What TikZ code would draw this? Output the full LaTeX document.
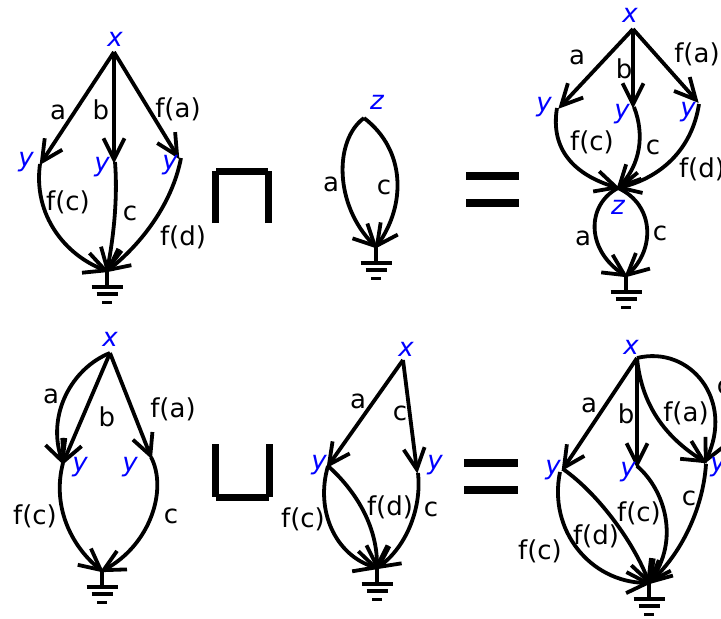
\documentclass[tikz,border=0pt]{standalone}
\usepackage{fontspec}
\setmainfont{DejaVu Sans}
\usetikzlibrary{arrows.meta}
\tikzset{
  edge/.style={line width=3.8pt,shorten >=-2.5pt,-{Straight Barb[length=21pt,width=21pt,line width=3.8pt]}},
  wire/.style={line width=3.8pt},
  op/.style={line width=7pt},
  lab/.style={inner sep=0pt,yshift=-2.5pt,font=\fontsize{26}{30}\selectfont,text=black},
  var/.style={inner sep=0pt,yshift=-2.5pt,font=\fontsize{26}{30}\selectfont\itshape,text=blue},
}
\newcommand{\gnd}[1]{%
  \draw[wire] (#1) -- ++(0,16) ++(-15.5,0) -- ++(31,0) ++(-26,7) -- ++(21,0) ++(-15.5,8.5) -- ++(10,0);}
\begin{document}
\begin{tikzpicture}[x=1pt,y=-1pt]
\path[use as bounding box] (0,0) rectangle (721,619);
% Panel 1
\coordinate (ax) at (114,52);
\coordinate (ay1) at (41,163);
\coordinate (ay2) at (114,161);
\coordinate (ay3) at (178,157);
\coordinate (ah) at (107,271);
\draw[edge] (ax) -- (ay1);
\draw[edge] (ax) -- (ay2);
\draw[edge] (ax) -- (ay3);
\draw[edge] (ay1) ++(-1,1) coordinate (ay1s) (ay1s) .. controls (33,215) and (65,255) .. (ah);
\draw[edge] (ay2) ++(1,1) coordinate (ay2s) (ay2s) .. controls (118,200) and (113,240) .. (ah);
\draw[edge] (ay3) ++(3,1) coordinate (ay3s) (ay3s) .. controls (172,205) and (140,245) .. (ah);
\gnd{ah}
\node[var] (axl) at (115,37) {x};
\node[var] (ayl1) at (26,160) {y};
\node[var] (ayl2) at (102,165) {y};
\node[var] (ayl3) at (170,163) {y};
\node[lab] (ala) at (58,110) {a};
\node[lab] (alb) at (101,107) {b};
\node[lab] (alfa) at (178,107) {f(a)};
\node[lab] (alfc) at (68,200) {f(c)};
\node[lab] (alc) at (130,211) {c};
\node[lab] (alfd) at (183,235) {f(d)};
% meet
\draw[op] (215.5,223) -- (215.5,171);
\draw[op] (268.5,223) -- (268.5,171);
\draw[op] (216,171.5) -- (268,171.5);
% Panel 2
\coordinate (bz) at (364,118);
\coordinate (bh) at (376,247);
\draw[edge] (bz) .. controls (334,140) and (334,205) .. (bh);
\draw[edge] (bz) .. controls (406,150) and (406,205) .. (bh);
\gnd{bh}
\node[var] (bzl) at (377,100) {z};
\node[lab] (bla) at (331,182) {a};
\node[lab] (blc) at (384,185) {c};
% equals 1
\draw[line width=8pt] (466,176) -- (519,176);
\draw[line width=8pt] (466,203) -- (519,203);
% Panel 3
\coordinate (cx) at (633,29);
\coordinate (cy1) at (560,107);
\coordinate (cy2) at (633,106);
\coordinate (cy3) at (697,101);
\coordinate (cz) at (618,188);
\coordinate (ch) at (626,276);
\draw[edge] (cx) -- (cy1);
\draw[edge] (cx) -- (cy2);
\draw[edge] (cx) -- (cy3);
\draw[edge] (cy1) ++(-3,1) coordinate (cy1s) (cy1s) .. controls (550,150) and (575,175) .. (cz);
\draw[edge] (cy2) ++(1,1) coordinate (cy2s) (cy2s) .. controls (645,135) and (640,165) .. (cz);
\draw[edge] (cy3) ++(2,3) coordinate (cy3s) (cy3s) .. controls (692,150) and (660,178) .. (cz);
\draw[edge] (cz) .. controls (586,205) and (586,250) .. (ch);
\draw[edge] (cz) .. controls (655,205) and (655,250) .. (ch);
\gnd{ch}
\node[var] (cxl) at (630,13) {x};
\node[var] (cyl1) at (544,105) {y};
\node[var] (cyl2) at (622,112) {y};
\node[var] (cyl3) at (688,110) {y};
\node[var] (czl) at (618,205) {z};
\node[lab] (cla) at (577,55) {a};
\node[lab] (clb) at (624,66) {b};
\node[lab] (clfa) at (697,52) {f(a)};
\node[lab] (clfc) at (592,140) {f(c)};
\node[lab] (clc) at (653,145) {c};
\node[lab] (clfd) at (702,167) {f(d)};
\node[lab] (cla2) at (583,236) {a};
\node[lab] (clc2) at (660,231) {c};
% Panel 4
\coordinate (dx) at (110,353);
\coordinate (dy1) at (63,463);
\coordinate (dy2) at (151,457);
\coordinate (dh) at (102,571);
\draw[edge] (dx) .. controls (72,368) and (46,415) .. (dy1);
\draw[edge] (dx) -- (dy1);
\draw[edge] (dx) -- (dy2);
\draw[edge] (dy1) .. controls (52,505) and (70,545) .. (dh);
\draw[edge] (dy2) .. controls (168,490) and (150,545) .. (dh);
\gnd{dh}
\node[var] (dxl) at (110,337) {x};
\node[var] (dyl1) at (80,465) {y};
\node[var] (dyl2) at (130,465) {y};
\node[lab] (dla) at (51,394) {a};
\node[lab] (dlb) at (107,414) {b};
\node[lab] (dlfa) at (173,407) {f(a)};
\node[lab] (dlfc) at (35,514) {f(c)};
\node[lab] (dlc) at (171,514) {c};
% join
\draw[op] (215.5,444) -- (215.5,497);
\draw[op] (269.5,444) -- (269.5,497);
\draw[op] (216,497.5) -- (269,497.5);
% Panel 5
\coordinate (ex) at (403,360);
\coordinate (ey1) at (328,466);
\coordinate (ey2) at (417,471);
\coordinate (eh) at (377,568);
\draw[edge] (ex) -- (ey1);
\draw[edge] (ex) -- (ey2);
\draw[edge] (ey1) .. controls (315,510) and (335,555) .. (eh);
\draw[edge] (ey1) .. controls (355,490) and (377,525) .. (eh);
\draw[edge] (ey2) ++(1,2) coordinate (ey2s) (ey2s) .. controls (422,510) and (405,548) .. (eh);
\gnd{eh}
\node[var] (exl) at (406,347) {x};
\node[var] (eyl1) at (319,463) {y};
\node[var] (eyl2) at (435,463) {y};
\node[lab] (ela) at (358,399) {a};
\node[lab] (elc) at (400,411) {c};
\node[lab] (elfc) at (303,517) {f(c)};
\node[lab] (elfd) at (390,505) {f(d)};
\node[lab] (elc2) at (431,507) {c};
% equals 2
\draw[line width=8pt] (464,463) -- (518,463);
\draw[line width=8pt] (464,490) -- (518,490);
% Panel 6
\coordinate (fx) at (637,358);
\coordinate (fy1) at (563,469);
\coordinate (fy2) at (637,466);
\coordinate (fy3) at (705,462);
\coordinate (fh) at (649,583);
\draw[edge] (fx) -- (fy1);
\draw[edge] (fx) -- (fy2);
\draw[edge] (fx) .. controls (642,410) and (670,440) .. (fy3);
\draw[edge] (fx) .. controls (690,345) and (735,400) .. (fy3);
\draw[edge] (fy1) ++(-3,3) coordinate (fy1s) (fy1s) .. controls (548,530) and (590,582) .. (fh);
\draw[edge] (fy1) .. controls (600,495) and (635,545) .. (fh);
\draw[edge] (fy2) .. controls (665,490) and (680,540) .. (fh);
\draw[edge] (fy3) ++(1,2) coordinate (fy3s) (fy3s) .. controls (703,510) and (680,555) .. (fh);
\gnd{fh}
\node[var] (fxl) at (631,345) {x};
\node[var] (fyl1) at (553,468) {y};
\node[var] (fyl2) at (628,470) {y};
\node[var] (fyl3) at (718,465) {y};
\node[lab] (fla) at (589,403) {a};
\node[lab] (flb) at (626,411) {b};
\node[lab] (flfa) at (686,411) {f(a)};
\node[lab] (flc0) at (724,385) {c};
\node[lab] (flfc) at (639,511) {f(c)};
\node[lab] (flfd) at (596,534) {f(d)};
\node[lab] (flfc2) at (540,549) {f(c)};
\node[lab] (flc) at (689,496) {c};
\end{tikzpicture}
\end{document}
